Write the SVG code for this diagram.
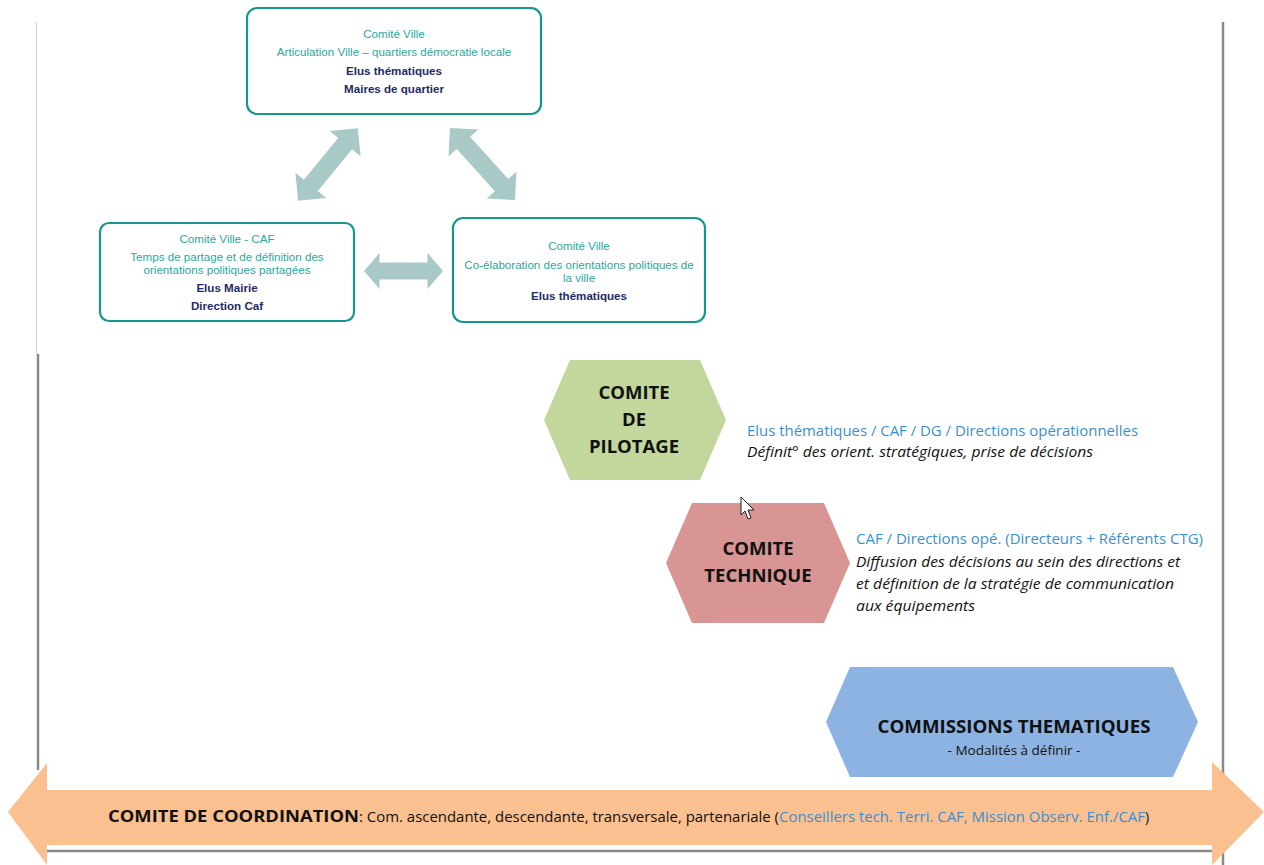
<svg xmlns="http://www.w3.org/2000/svg" width="1264" height="865" viewBox="0 0 1264 865">
<style>
.box{fill:#fff;stroke:#17968e;stroke-width:2.2}
.t1{font-family:"Liberation Sans",Arial,sans-serif;font-size:11.6px;fill:#2aa89c;text-anchor:middle}
.t2{font-family:"Liberation Sans",Arial,sans-serif;font-size:11.6px;font-weight:bold;fill:#1f2b66;text-anchor:middle}
.dbl{fill:#a9c9c6}
.hx{font-family:"Open Sans","Noto Sans",sans-serif;font-weight:bold;fill:#111;text-anchor:middle}
.bl{font-family:"Open Sans","Noto Sans",sans-serif;font-size:14.5px;fill:#3a8fd4}
.it{font-family:"Open Sans","Noto Sans",sans-serif;font-size:14.5px;font-style:italic;fill:#111}
.fr{stroke:#8a8a8a;fill:none}
</style>
<rect width="1264" height="865" fill="#fff"/>
<g id="frame">
<line x1="36.5" y1="22" x2="36.5" y2="354" stroke="#cfcfcf" stroke-width="1"/>
<line class="fr" x1="38" y1="354" x2="38" y2="770" stroke-width="2.5"/>
<line class="fr" x1="1223" y1="22" x2="1223" y2="865" stroke-width="2.5"/>
<line class="fr" x1="40" y1="851" x2="1220" y2="851" stroke-width="2.5"/>
</g>
<g id="connectors">
<path class="dbl" transform="translate(328,164.5) rotate(-50.6)" d="M-47,0 L-27,-20 L-27,-9 L27,-9 L27,-20 L47,0 L27,20 L27,9 L-27,9 L-27,20 Z"/>
<path class="dbl" transform="translate(482.5,164) rotate(47.9)" d="M-48.5,0 L-28.5,-20 L-28.5,-9 L28.5,-9 L28.5,-20 L48.5,0 L28.5,20 L28.5,9 L-28.5,9 L-28.5,20 Z"/>
<path class="dbl" transform="translate(403.5,271)" d="M-39.5,0 L-24,-18 L-24,-8.5 L24,-8.5 L24,-18 L39.5,0 L24,18 L24,8.5 L-24,8.5 L-24,18 Z"/>
</g>
<g id="comite-ville-top">
<rect class="box" x="247" y="8" width="294" height="106" rx="10"/>
<text class="t1" x="394" y="38">Comité Ville</text>
<text class="t1" x="394" y="56">Articulation Ville – quartiers démocratie locale</text>
<text class="t2" x="394" y="75">Elus thématiques</text>
<text class="t2" x="394" y="93">Maires de quartier</text>
</g>
<g id="comite-ville-caf">
<rect class="box" x="100" y="223" width="254" height="98" rx="9"/>
<text class="t1" x="227" y="243">Comité Ville - CAF</text>
<text class="t1" x="227" y="261">Temps de partage et de définition des</text>
<text class="t1" x="227" y="274">orientations politiques partagées</text>
<text class="t2" x="227" y="292">Elus Mairie</text>
<text class="t2" x="227" y="310">Direction Caf</text>
</g>
<g id="comite-ville-right">
<rect class="box" x="453" y="218" width="252" height="104" rx="10"/>
<text class="t1" x="579" y="250">Comité Ville</text>
<text class="t1" x="579" y="269">Co-élaboration des orientations politiques de</text>
<text class="t1" x="579" y="282">la ville</text>
<text class="t2" x="579" y="300">Elus thématiques</text>
</g>
<g id="comite-pilotage">
<polygon points="544,420 570,360 700,360 726,420 700,480 570,480" fill="#c3d69b"/>
<text class="hx" x="634" y="399" font-size="18.5">COMITE</text>
<text class="hx" x="634" y="426" font-size="18.5">DE</text>
<text class="hx" x="634" y="453" font-size="18.5">PILOTAGE</text>
<text class="bl" x="747" y="436" textLength="391" lengthAdjust="spacingAndGlyphs">Elus thématiques / CAF / DG / Directions opérationnelles</text>
<text class="it" x="747" y="457" textLength="346" lengthAdjust="spacingAndGlyphs">Définit° des orient. stratégiques, prise de décisions</text>
</g>
<g id="comite-technique">
<polygon points="666,563 692,503 824,503 850,563 824,623 692,623" fill="#d99594"/>
<text class="hx" x="758" y="555" font-size="18.5">COMITE</text>
<text class="hx" x="758" y="582" font-size="18.5">TECHNIQUE</text>
<text class="bl" x="856" y="544" textLength="347" lengthAdjust="spacingAndGlyphs">CAF / Directions opé. (Directeurs + Référents CTG)</text>
<text class="it" x="856" y="567" textLength="324" lengthAdjust="spacingAndGlyphs">Diffusion des décisions au sein des directions et</text>
<text class="it" x="856" y="589" textLength="318" lengthAdjust="spacingAndGlyphs">et définition de la stratégie de communication</text>
<text class="it" x="856" y="611" textLength="119" lengthAdjust="spacingAndGlyphs">aux équipements</text>
</g>
<g id="commissions-thematiques">
<polygon points="826,722 850,667 1173,667 1198,722 1173,777 850,777" fill="#8db3e2"/>
<text class="hx" x="1014" y="733" font-size="18.5" textLength="273" lengthAdjust="spacingAndGlyphs">COMMISSIONS THEMATIQUES</text>
<text x="1014" y="755" font-family="'Open Sans','Noto Sans',sans-serif" font-size="13.5" fill="#111" text-anchor="middle">- Modalités à définir -</text>
</g>
<g id="comite-coordination">
<polygon points="8,812 47,763 47,790 1212,790 1212,762 1264,812 1212,865 1212,845 47,845 47,865" fill="#fac08f"/>
<text y="822" font-family="'Open Sans','Noto Sans',sans-serif" font-size="14" fill="#111"><tspan x="108" font-weight="bold" font-size="16.5" textLength="251" lengthAdjust="spacingAndGlyphs">COMITE DE COORDINATION</tspan><tspan x="359" textLength="420" lengthAdjust="spacingAndGlyphs">: Com. ascendante, descendante, transversale, partenariale (</tspan><tspan x="779" fill="#3a8fd4" textLength="366" lengthAdjust="spacingAndGlyphs">Conseillers tech. Terri. CAF, Mission Observ. Enf./CAF</tspan><tspan x="1145">)</tspan></text>
</g>
<g id="cursor">
<path d="M741,497 L741,515 L745,511 L748,519 L751,518 L748,510 L754,510 Z" fill="#fff" stroke="#222" stroke-width="1"/>
</g>
</svg>
